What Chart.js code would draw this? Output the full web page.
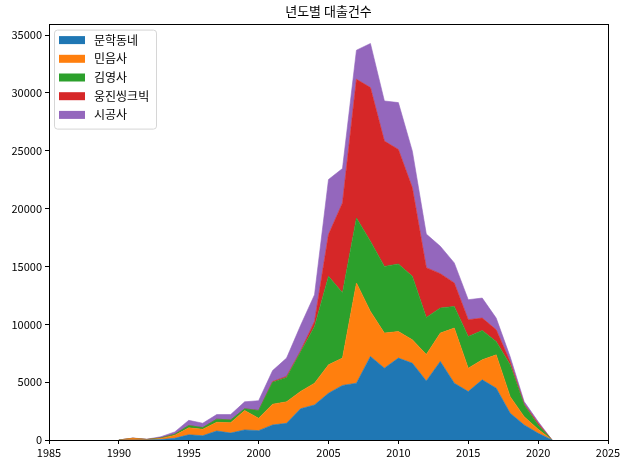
<!DOCTYPE html>
<html>
<head>
<meta charset="utf-8">
<script src="https://cdn.jsdelivr.net/npm/chart.js@4/dist/chart.umd.min.js"></script>
<style>
html,body{margin:0;padding:0;background:#fff;}
#wrap{width:624px;height:466px;position:relative;}
</style>
</head>
<body>
<div id="wrap"><canvas id="c" width="624" height="466"></canvas></div>
<script>
const years = [1990,1991,1992,1993,1994,1995,1996,1997,1998,1999,2000,2001,2002,2003,2004,2005,2006,2007,2008,2009,2010,2011,2012,2013,2014,2015,2016,2017,2018,2019,2020,2021];
const seriesNames = ['문학동네','민음사','김영사','웅진씽크빅','시공사'];
const munhak  = [0,0,10,40,150,450,370,780,600,870,810,1300,1440,2700,3030,4040,4720,4910,7220,6210,7080,6640,5100,6790,4910,4190,5200,4480,2310,1300,580,0];
const minum   = [0,150,30,90,250,600,560,750,900,1680,1070,1800,1860,1500,1880,2460,2360,8660,3900,3030,2300,2020,2300,2450,4770,2020,1730,2880,1440,720,350,0];
const gimyoung= [0,0,10,50,100,200,140,270,230,150,670,1900,2100,3400,4910,7650,5650,5630,6060,5770,5840,5490,3200,2170,1870,2740,2540,1160,2750,1010,370,0];
const woongjin= [0,0,0,0,0,0,0,0,0,0,0,50,100,100,430,3610,7770,11990,13290,10830,9900,7650,4300,2970,2030,1450,1070,1010,260,70,140,0];
const sigong  = [0,20,20,100,200,450,380,400,470,600,850,950,1580,2200,2310,4760,2970,2510,3810,3470,4050,3170,2900,2370,1730,1730,1730,1010,430,220,150,0];
const xTicks = [1985,1990,1995,2000,2005,2010,2015,2020,2025];
const yTicks = [0,5000,10000,15000,20000,25000,30000,35000];
const colors = ['#1f77b4','#ff7f0e','#2ca02c','#d62728','#9467bd'];
const values = [munhak, minum, gimyoung, woongjin, sigong];

const FONT = "'Noto Sans CJK KR','Noto Sans',sans-serif";

const datasets = values.map((arr, k) => ({
  label: seriesNames[k],
  data: years.map((y, i) => ({x: y, y: arr[i]})),
  backgroundColor: colors[k],
  borderColor: colors[k],
  borderWidth: 0.6,
  pointRadius: 0,
  tension: 0,
  fill: k === 0 ? 'origin' : '-1'
}));

const framePlugin = {
  id: 'frame',
  afterDraw(chart) {
    const a = chart.chartArea, ctx = chart.ctx;
    ctx.save();
    ctx.strokeStyle = '#000';
    ctx.lineWidth = 1;
    ctx.strokeRect(Math.round(a.left) + 0.5, Math.round(a.top) + 0.5, Math.round(a.right - a.left), Math.round(a.bottom - a.top));
    // legend
    const lx = a.left + 5, ly = a.top + 6, lw = 102, lh = 99;
    ctx.beginPath();
    if (ctx.roundRect) ctx.roundRect(lx + 0.5, ly + 0.5, lw, lh, 3); else ctx.rect(lx + 0.5, ly + 0.5, lw, lh);
    ctx.fillStyle = 'rgba(255,255,255,0.8)';
    ctx.fill();
    ctx.strokeStyle = '#d6d6d6';
    ctx.stroke();
    ctx.font = '12px ' + FONT;
    ctx.textBaseline = 'middle';
    ctx.textAlign = 'left';
    chart.data.datasets.forEach((ds, i) => {
      const cy = ly + 10.5 + i * 18.7;
      ctx.fillStyle = ds.backgroundColor;
      ctx.fillRect(lx + 5, cy - 4, 26, 8);
      ctx.fillStyle = '#000';
      ctx.fillText(ds.label, lx + 40, cy);
    });
    ctx.restore();
  }
};

new Chart(document.getElementById('c'), {
  type: 'line',
  data: { datasets },
  options: {
    responsive: false,
    animation: false,
    layout: { padding: { left: 0, right: 16, top: 0, bottom: 0 } },
    plugins: {
      legend: { display: false },
      tooltip: { enabled: false },
      title: {
        display: true,
        text: '년도별 대출건수',
        fullSize: false,
        color: '#000',
        font: { family: FONT, size: 13, weight: 'normal' },
        padding: { top: 3, bottom: 5 }
      }
    },
    scales: {
      x: {
        type: 'linear',
        min: 1985, max: 2025,
        afterBuildTicks(s) { s.ticks = xTicks.map(v => ({value: v})); },
        afterFit(s) { s.height = 26; },
        grid: { drawOnChartArea: false, drawTicks: true, tickLength: 4, color: '#000' },
        border: { display: false },
        ticks: { color: '#000', font: { family: FONT, size: 11 }, padding: 2, maxRotation: 0, autoSkip: false, callback: v => String(v) }
      },
      y: {
        type: 'linear',
        stacked: true,
        min: 0, max: 36000,
        afterBuildTicks(s) { s.ticks = yTicks.map(v => ({value: v})); },
        afterFit(s) { s.width = 49; },
        grid: { drawOnChartArea: false, drawTicks: true, tickLength: 4, color: '#000' },
        border: { display: false },
        ticks: { color: '#000', font: { family: FONT, size: 11 }, padding: 3, autoSkip: false, callback: v => String(v) }
      }
    }
  },
  plugins: [framePlugin]
});
</script>
</body>
</html>
